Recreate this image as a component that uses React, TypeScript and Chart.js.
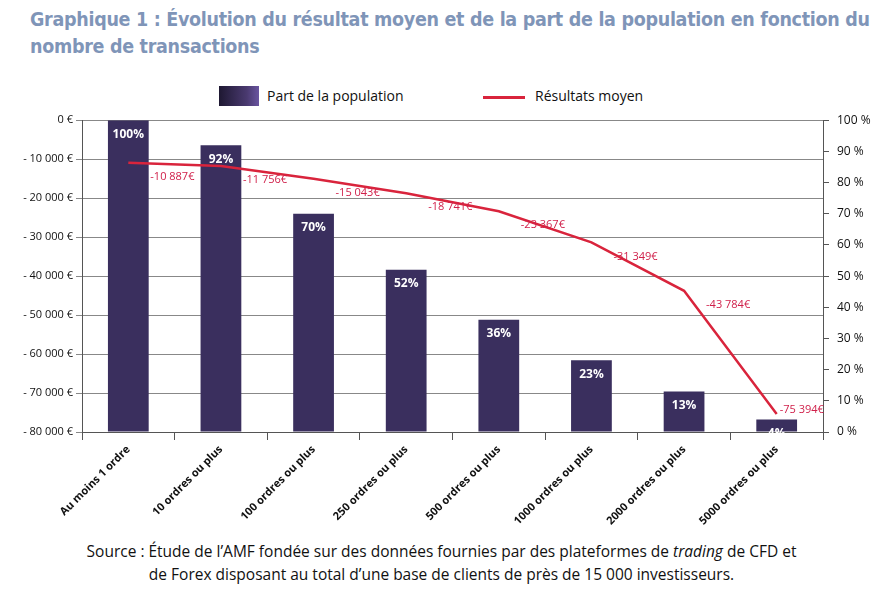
import React, { useEffect, useRef } from "react";
import { Chart, registerables } from "chart.js";
Chart.register(...registerables);

const categories = ["Au moins 1 ordre", "10 ordres ou plus", "100 ordres ou plus", "250 ordres ou plus", "500 ordres ou plus", "1000 ordres ou plus", "2000 ordres ou plus", "5000 ordres ou plus"];
const partPopulation = [100, 92, 70, 52, 36, 23, 13, 4];
const resultatMoyen = [-10887, -11756, -15043, -18741, -23367, -31349, -43784, -75394];
const resultLabels = ["-10 887€", "-11 756€", "-15 043€", "-18 741€", "-23 367€", "-31 349€", "-43 784€", "-75 394€"];

const fmtEuro = (v: number) => {
  if (v === 0) return "0 €";
  const a = Math.abs(v).toString().replace(/\B(?=(\d{3})+(?!\d))/g, " ");
  return "- " + a + " €";
};

export default function App() {
  const ref = useRef<HTMLCanvasElement>(null);
  useEffect(() => {
    const labelsPlugin = {
      id: "lbls",
      afterDatasetsDraw(chart: any) {
        const ctx = chart.ctx;
        ctx.save();
        const bars = chart.getDatasetMeta(0).data;
        ctx.font = "bold 12px 'Open Sans'";
        ctx.fillStyle = "#fff";
        ctx.textAlign = "center";
        ctx.textBaseline = "middle";
        bars.forEach((b: any, i: number) => {
          ctx.fillText(partPopulation[i] + "%", b.x, b.y + 14);
        });
        const pts = chart.getDatasetMeta(1).data;
        ctx.font = "11px 'Open Sans'";
        ctx.fillStyle = "#d0204a";
        ctx.textAlign = "left";
        pts.forEach((p: any, i: number) => {
          if (i === pts.length - 1) ctx.fillText(resultLabels[i], p.x + 3, p.y - 4);
          else ctx.fillText(resultLabels[i], p.x + 22, p.y + 14);
        });
        ctx.restore();
      },
    };
    const chart = new Chart(ref.current!, {
      data: {
        labels: categories,
        datasets: [
          {
            type: "bar",
            data: partPopulation,
            yAxisID: "yR",
            order: 2,
            barPercentage: 0.44,
            categoryPercentage: 1,
            backgroundColor: (c: any) => {
              const el = c.element;
              const ctx = c.chart.ctx;
              if (!el || el.width === undefined) return "#3a2f5e";
              const g = ctx.createLinearGradient(0, el.y, 0, el.base);
              g.addColorStop(0, "#1e1832");
              g.addColorStop(0.45, "#574582");
              g.addColorStop(1, "#7e63b0");
              return g;
            },
          },
          {
            type: "line",
            data: resultatMoyen,
            yAxisID: "yL",
            order: 1,
            borderColor: "#d9243c",
            borderWidth: 2.5,
            pointRadius: 0,
            tension: 0,
          },
        ],
      } as any,
      options: {
        animation: false,
        responsive: false,
        layout: { padding: { top: 12, left: 0, right: 0 } },
        plugins: { legend: { display: false }, tooltip: { enabled: false } },
        scales: {
          x: {
            grid: { display: true, drawOnChartArea: false, offset: true, color: "#555", tickLength: 8 },
            border: { color: "#555" },
            ticks: { maxRotation: 45, minRotation: 45, color: "#111", font: { family: "'Open Sans'", size: 11, weight: "bold" } },
            afterFit: (s: any) => { s.height = 93; },
          },
          yL: {
            position: "left",
            min: -80000,
            max: 0,
            ticks: { stepSize: 10000, callback: (v: any) => fmtEuro(v), color: "#111", font: { family: "'Open Sans'", size: 11 } },
            grid: { color: "#888", lineWidth: 1, tickLength: 6 },
            border: { color: "#555" },
            afterFit: (s: any) => { s.width = 82; },
          },
          yR: {
            position: "right",
            min: 0,
            max: 100,
            ticks: { stepSize: 10, callback: (v: any) => v + " %", color: "#111", padding: 8, font: { family: "'Open Sans'", size: 12 } },
            grid: { drawOnChartArea: false, color: "#555", tickLength: 6 },
            border: { color: "#555" },
            afterFit: (s: any) => { s.width = 60; },
          },
        },
      } as any,
      plugins: [labelsPlugin],
    });
    return () => chart.destroy();
  }, []);

  return (
    <div style={{ position: "fixed", left: 0, top: 0, width: 883, height: 592, background: "#fff", fontFamily: "'Open Sans'" }}>
      <div style={{ position: "absolute", left: 30, top: 6, width: 850, color: "#7f95b8", fontFamily: "'DejaVu Sans Condensed', 'DejaVu Sans'", fontWeight: "bold", fontSize: 19.5, lineHeight: "27px", letterSpacing: -0.3 }}>
        Graphique 1 : Évolution du résultat moyen et de la part de la population en fonction du nombre de transactions
      </div>
      <div style={{ position: "absolute", left: 219, top: 86, width: 40, height: 20, background: "linear-gradient(90deg, #1e1832, #4a3a70 70%, #6a55a0)" }} />
      <div style={{ position: "absolute", left: 267, top: 86, fontSize: 14, color: "#111" }}>Part de la population</div>
      <div style={{ position: "absolute", left: 483, top: 96, width: 42, height: 3, background: "#d9243c" }} />
      <div style={{ position: "absolute", left: 535, top: 86, fontSize: 14, color: "#111" }}>Résultats moyen</div>
      <canvas ref={ref} width={883} height={420} style={{ position: "absolute", left: 0, top: 105 }} />
      <div style={{ position: "absolute", left: 0, top: 540, width: 883, textAlign: "center", fontSize: 15.5, lineHeight: "23px", color: "#111" }}>
        Source : Étude de l’AMF fondée sur des données fournies par des plateformes de <i>trading</i> de CFD et<br />
        de Forex disposant au total d’une base de clients de près de 15 000 investisseurs.
      </div>
    </div>
  );
}
